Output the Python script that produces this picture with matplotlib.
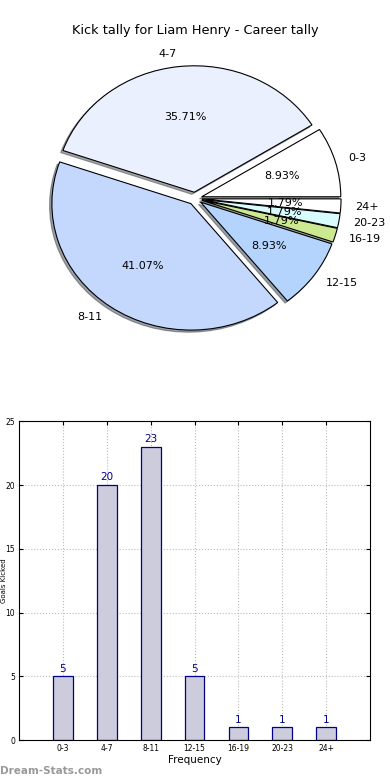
import matplotlib
matplotlib.use('Agg')
import matplotlib.pyplot as plt

# kick tally ranges and counts
categories = ['0-3', '4-7', '8-11', '12-15', '16-19', '20-23', '24+']
counts = [5, 20, 23, 5, 1, 1, 1]
pie_colors = ['#ffffff', '#eaf0fe', '#c4d8fe', '#b4d4fe', '#cce890', '#d8fcfe', '#ffffff']
yticks = [0, 5, 10, 15, 20, 25]

fig = plt.figure(figsize=(3.9, 7.8), dpi=100)

# pie on top
ax1 = fig.add_axes([0.072, 0.551, 0.856, 0.389])
wedges, texts, autotexts = ax1.pie(
    counts, labels=categories, colors=pie_colors, autopct='%1.2f%%',
    explode=[0.05] * len(counts), shadow={'ox': -0.012, 'oy': -0.012, 'alpha': 0.5},
    startangle=0, textprops={'fontsize': 8},
    wedgeprops={'linewidth': 0.8, 'edgecolor': 'black'},
    labeldistance=1.1, pctdistance=0.6)
ax1.set_aspect('auto')
ax1.set_xlim(-1.2, 1.2)
ax1.set_ylim(-1.2, 1.2)
ax1.axis('off')
fig.text(0.5, 0.961, 'Kick tally for Liam Henry - Career tally', ha='center', va='center', fontsize=9.3)

# bar chart below
ax2 = fig.add_axes([0.049, 0.051, 0.90, 0.409])
x = list(range(len(categories)))
ax2.bar(x, counts, width=0.45, color='#ccccdd', edgecolor='#000088', linewidth=0.9, zorder=2)
for xi, c in zip(x, counts):
    ax2.text(xi, c + 0.2, str(c), ha='center', va='bottom', fontsize=7.5, color='#000088')
ax2.set_xlim(-1, 7)
ax2.set_ylim(0, 25)
ax2.set_xticks(x)
ax2.set_xticklabels(categories, fontsize=5.5)
ax2.set_yticks(yticks)
ax2.set_yticklabels([str(t) for t in yticks], fontsize=5.5)
ax2.tick_params(direction='in', length=3, pad=3, top=True, right=True)
ax2.grid(True, linestyle=':', color='#bbbbbb', linewidth=0.8, zorder=0)
ax2.set_axisbelow(True)
ax2.set_xlabel('Frequency', fontsize=7.5, labelpad=1)
# y label squeezed against the left edge, as in the original
fig.text(0.003, 0.255, 'Goals Kicked', rotation=90, fontsize=5, ha='left', va='center')

fig.text(0.0, 0.005, 'Dream-Stats.com', fontsize=7.5, color='#999999', fontweight='bold', ha='left', va='bottom')

fig.savefig('out.png', dpi=100)
